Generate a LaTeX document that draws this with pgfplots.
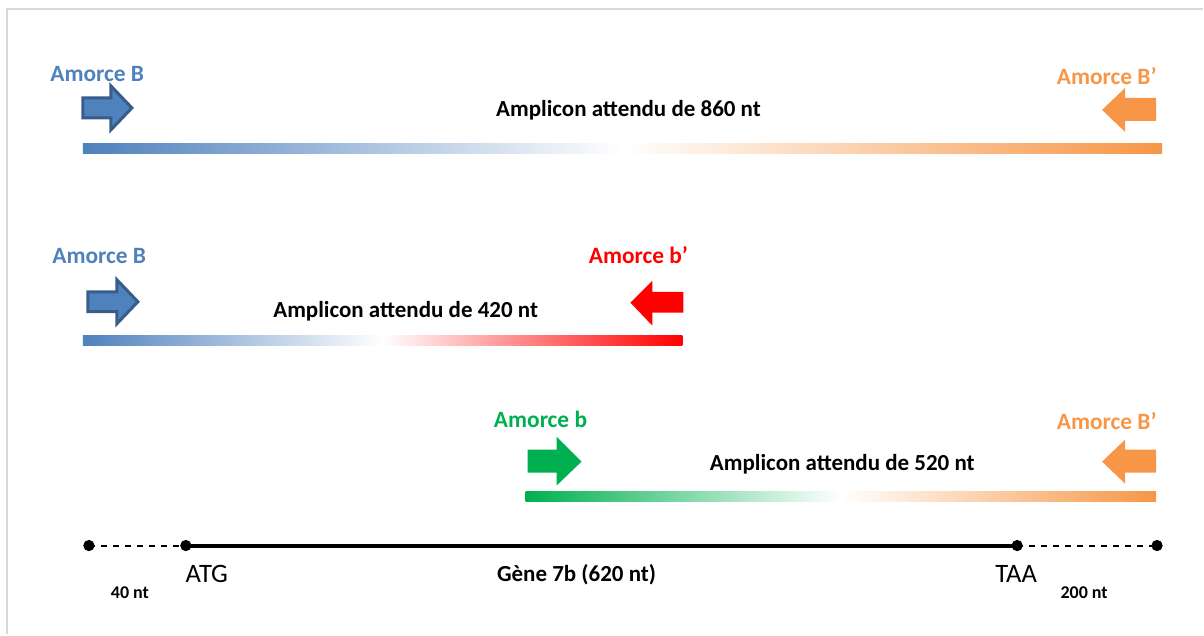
\documentclass[border=0pt]{standalone}
\usepackage{pgfplots}
\pgfplotsset{compat=1.18}
\usepackage{fontspec}
\setmainfont{Carlito}
\definecolor{cblue}{HTML}{4F81BD}
\definecolor{cblued}{HTML}{385D8A}
\definecolor{corange}{HTML}{F79646}
\definecolor{cred}{HTML}{FF0000}
\definecolor{cgreen}{HTML}{00B050}
\definecolor{cframe}{HTML}{D9D9D9}
\newcommand{\fbig}{\fontsize{11.7}{13}\selectfont\bfseries}
\newcommand{\fmid}{\fontsize{11.5}{13}\selectfont\bfseries}
\begin{document}
\begin{tikzpicture}
\begin{axis}[scale only axis, width=602pt, height=317.5pt,
  xmin=0, xmax=1204, ymin=0, ymax=635, y dir=reverse,
  hide axis, clip=false]
\path (axis cs:0,0) rectangle (axis cs:1204,635);
% frame
\addplot[cframe, line width=1pt] coordinates {(7,635) (7,9) (1204,9)};
% bars
\addplot[draw=none, left color=cblue, right color=corange, middle color=white] coordinates {(83,144) (1163,144) (1163,154) (83,154)} -- cycle;
\addplot[draw=none, left color=cblue, right color=cred, middle color=white] coordinates {(83,336) (683,336) (683,346) (83,346)} -- cycle;
\addplot[draw=none, left color=cgreen, right color=corange, middle color=white] coordinates {(526,492) (1157,492) (1157,502) (526,502)} -- cycle;
% blue arrows
\addplot[fill=cblue, draw=cblued, line width=1.5pt, line join=miter] coordinates {(83,98) (111,98) (111,86) (132,108) (111,130) (111,118) (83,118)} -- cycle;
\addplot[fill=cblue, draw=cblued, line width=1.5pt, line join=miter] coordinates {(88,292) (117,292) (117,280) (138,302) (117,324) (117,312) (88,312)} -- cycle;
% orange arrows
\addplot[fill=corange, draw=none] coordinates {(1157,98) (1126,98) (1126,88) (1103,110) (1126,132) (1126,121) (1157,121)} -- cycle;
\addplot[fill=corange, draw=none] coordinates {(1157,450) (1126,450) (1126,440) (1103,462) (1126,484) (1126,473) (1157,473)} -- cycle;
% red arrow
\addplot[fill=cred, draw=none] coordinates {(684,292) (653,292) (653,281) (631,303) (653,326) (653,313) (684,313)} -- cycle;
% green arrow
\addplot[fill=cgreen, draw=none] coordinates {(528,450) (557,450) (557,437) (582,462) (557,486) (557,473) (528,473)} -- cycle;
% gene line
\addplot[black, line width=1pt, dashed] coordinates {(89,546) (186,546)};
\addplot[black, line width=1pt, dashed] coordinates {(1018,546) (1158,546)};
\addplot[black, line width=2pt] coordinates {(186,546) (1018,546)};
\addplot[only marks, mark=*, mark size=2.6pt, black] coordinates {(89,546) (186,546) (1018,546) (1158,546)};
% texts
\node[anchor=base west, text=cblue, inner sep=0pt] at (axis cs:50,82) {\fbig Amorce B};
\node[anchor=base east, text=corange, inner sep=0pt] at (axis cs:1158,85) {\fbig Amorce B’};
\node[anchor=base, inner sep=0pt] at (axis cs:629,117) {\fmid Amplicon attendu de 860 nt};
\node[anchor=base west, text=cblue, inner sep=0pt] at (axis cs:52,264) {\fbig Amorce B};
\node[anchor=base east, text=cred, inner sep=0pt] at (axis cs:689,264) {\fbig Amorce b’};
\node[anchor=base, inner sep=0pt] at (axis cs:406,318) {\fmid Amplicon attendu de 420 nt};
\node[anchor=base west, text=cgreen, inner sep=0pt] at (axis cs:494,428) {\fbig Amorce b};
\node[anchor=base east, text=corange, inner sep=0pt] at (axis cs:1158,430) {\fbig Amorce B’};
\node[anchor=base, inner sep=0pt] at (axis cs:843,471) {\fmid Amplicon attendu de 520 nt};
\node[anchor=base, inner sep=0pt] at (axis cs:207,583) {\fontsize{13.3}{15}\selectfont ATG};
\node[anchor=base, inner sep=0pt] at (axis cs:1017,583) {\fontsize{13.3}{15}\selectfont TAA};
\node[anchor=base, inner sep=0pt] at (axis cs:577,582) {\fmid Gène 7b (620 nt)};
\node[anchor=base, inner sep=0pt] at (axis cs:130,599) {\fontsize{9}{11}\selectfont\bfseries 40 nt};
\node[anchor=base, inner sep=0pt] at (axis cs:1085,599) {\fontsize{9}{11}\selectfont\bfseries 200 nt};
\end{axis}
\end{tikzpicture}
\end{document}
